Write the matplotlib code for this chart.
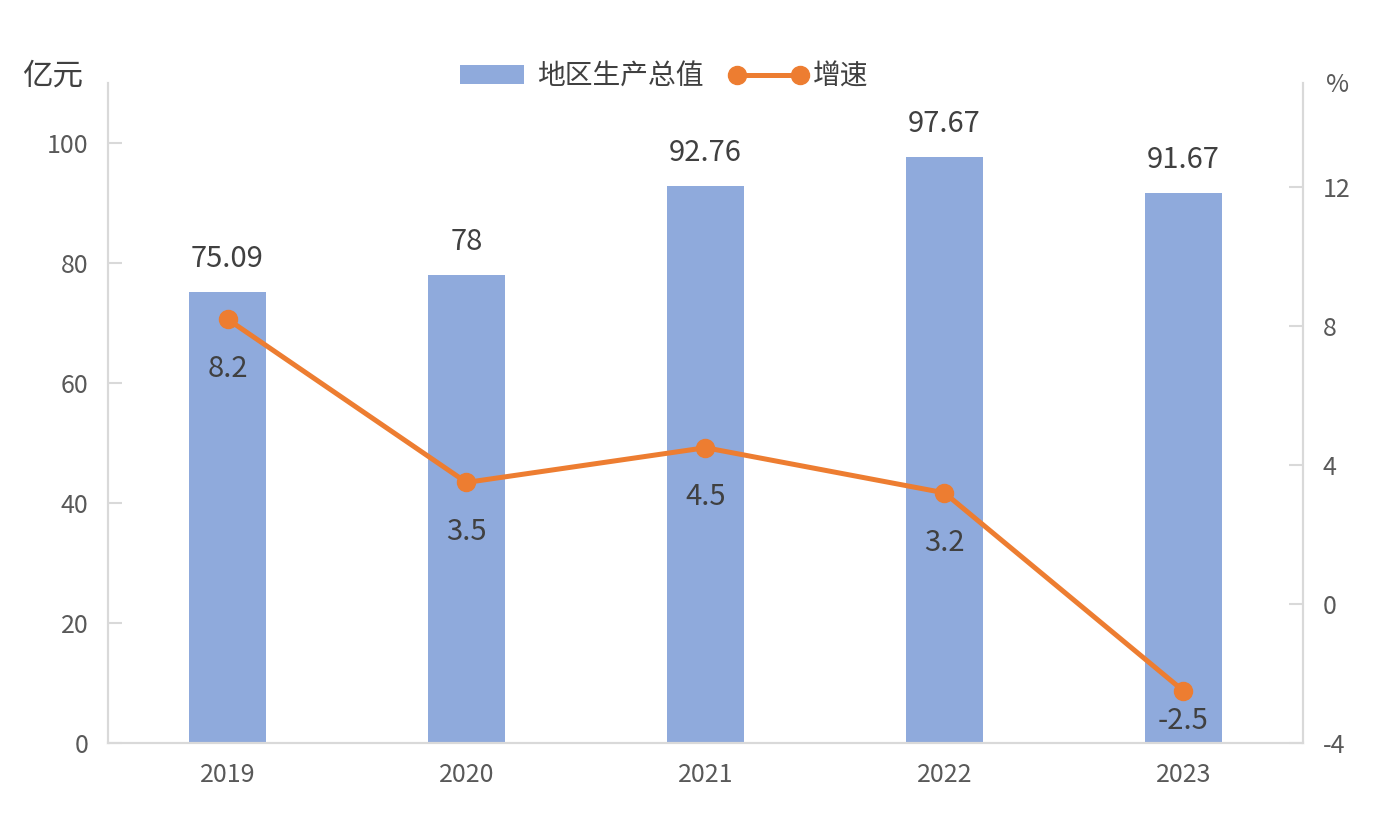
import matplotlib

matplotlib.use("Agg")
import matplotlib.pyplot as plt
from matplotlib.legend_handler import HandlerLine2D

# data
years = ["2019", "2020", "2021", "2022", "2023"]
gdp = [75.09, 78, 92.76, 97.67, 91.67]          # 地区生产总值, 亿元
growth = [8.2, 3.5, 4.5, 3.2, -2.5]              # 增速, %
gdp_labels = ["75.09", "78", "92.76", "97.67", "91.67"]
growth_labels = ["8.2", "3.5", "4.5", "3.2", "-2.5"]
left_ticks = [0, 20, 40, 60, 80, 100]
right_ticks = [-4, 0, 4, 8, 12]

BAR_COLOR = "#8FAADC"
LINE_COLOR = "#ED7D31"
AXIS_COLOR = "#D9D9D9"
TICK_TEXT = "#595959"
LABEL_TEXT = "#404040"

plt.rcParams["font.family"] = ["Noto Sans CJK SC", "DejaVu Sans"]
plt.rcParams["axes.unicode_minus"] = False

fig = plt.figure(figsize=(13.9, 8.21), dpi=100)
ax = fig.add_axes([0.0777, 0.095, 0.8597, 0.804])
ax2 = ax.twinx()

x = list(range(len(years)))
bars = ax.bar(x, gdp, width=0.32, color=BAR_COLOR, label="地区生产总值")
line, = ax2.plot(x, growth, color=LINE_COLOR, lw=3.6, marker="o", ms=13,
                 label="增速")

ax.set_xlim(-0.5, len(years) - 0.5)
ax.set_ylim(0, 110)
ax2.set_ylim(-4, 15)
ax.set_yticks(left_ticks)
ax2.set_yticks(right_ticks)
ax.set_xticks(x)
ax.set_xticklabels(years)

for a in (ax, ax2):
    a.spines["top"].set_visible(False)
    for s in ("left", "right", "bottom"):
        a.spines[s].set_color(AXIS_COLOR)
        a.spines[s].set_linewidth(1.5)
    a.tick_params(axis="y", direction="in", length=10, width=1.5,
                  color=AXIS_COLOR, labelcolor=TICK_TEXT, labelsize=18, pad=14)
ax.tick_params(axis="x", length=0, labelcolor=TICK_TEXT, labelsize=18, pad=14)

# bar value labels
for xi, v, s in zip(x, gdp, gdp_labels):
    ax.annotate(s, (xi, v), xytext=(0, 13), textcoords="offset points",
                ha="center", va="bottom", fontsize=21, color=LABEL_TEXT)

# growth labels below points; last one pushed up to stay inside the plot
growth_offsets = [-25, -25, -25, -25, -11]
for xi, v, s, off in zip(x, growth, growth_labels, growth_offsets):
    ax2.annotate(s, (xi, v), xytext=(0, off), textcoords="offset points",
                 ha="center", va="top", fontsize=21, color=LABEL_TEXT)

fig.text(0.038, 0.908, "亿元", ha="center", va="center", fontsize=22,
         color=LABEL_TEXT)
fig.text(0.9626, 0.896, "%", ha="center", va="center", fontsize=18,
         color=TICK_TEXT)

fig.legend(handles=[bars, line], loc="center", bbox_to_anchor=(0.478, 0.907),
           ncol=2, frameon=False, fontsize=20, handlelength=2.3,
           handleheight=0.65, handletextpad=0.45, columnspacing=1.2,
           numpoints=2, labelcolor=LABEL_TEXT,
           handler_map={line: HandlerLine2D(marker_pad=0)})

fig.savefig("out.png", dpi=100)
